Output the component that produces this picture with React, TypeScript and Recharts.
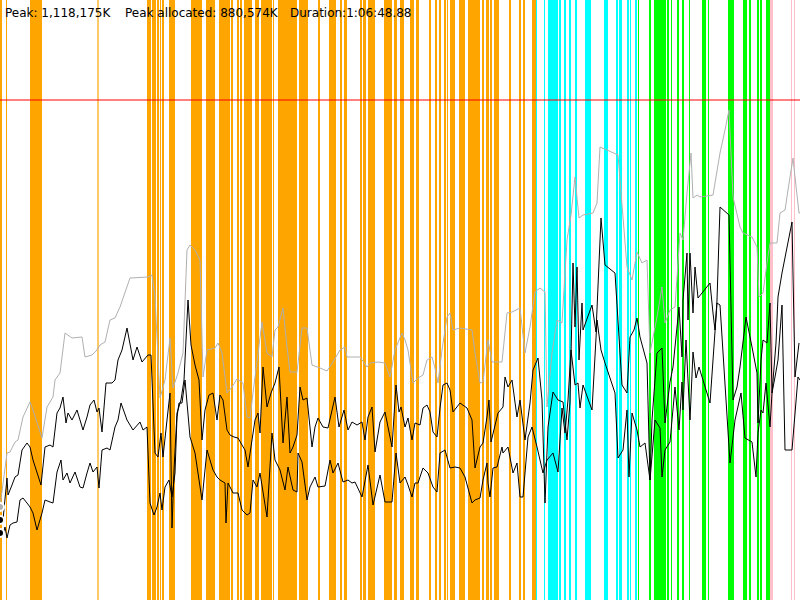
import { ComposedChart, Line, XAxis, YAxis, ReferenceArea, ReferenceLine } from 'recharts';

// memory samples: [time in seconds, % of peak footprint]
const TOTAL: [number, number][] = [
  [0, 18.6], [35, 29.4], [50, 29.6], [75, 31.6], [90, 32], [115, 36.6], [150, 39.6], [165, 38], [210, 32.4],
  [235, 38.6], [265, 40.6], [275, 44], [300, 45.4], [325, 53.4], [360, 52.4], [410, 52.6], [425, 48.6],
  [460, 49], [485, 50], [500, 51], [525, 51.6], [550, 56], [575, 56.4], [600, 58.6], [650, 64.4], [740, 64.6],
  [760, 65], [775, 60.6], [800, 40.4], [825, 44], [850, 52.4], [865, 42.4], [890, 45.4], [915, 49.4],
  [935, 70], [950, 71], [975, 70], [1000, 68], [1015, 44.6], [1035, 50], [1075, 50.4], [1090, 51.4],
  [1110, 49.4], [1135, 41.4], [1160, 42.6], [1185, 44.2], [1215, 43.4], [1235, 36.6], [1250, 36.4],
  [1265, 41.4], [1310, 55.6], [1335, 49.4], [1360, 48.6], [1375, 54], [1390, 54.6], [1415, 58.4],
  [1435, 50.6], [1450, 45.6], [1485, 45.6], [1510, 54.4], [1535, 54.4], [1560, 47], [1600, 46.4],
  [1635, 45.8], [1665, 47.6], [1700, 50], [1725, 50.6], [1735, 48.6], [1800, 48.6], [1835, 46.6],
  [1850, 47.4], [1890, 47.6], [1925, 47.4], [1950, 44.6], [1975, 50], [2010, 53.4], [2025, 52],
  [2040, 50], [2065, 43.4], [2090, 44.4], [2115, 45], [2135, 48], [2160, 48.6], [2175, 46.4],
  [2190, 43.4], [2210, 50], [2235, 56.6], [2250, 57.4], [2265, 54], [2300, 54.4], [2360, 54],
  [2375, 49.4], [2400, 43.4], [2415, 43.6], [2440, 52], [2460, 47.6], [2510, 47.6], [2535, 57.4],
  [2560, 57.6], [2600, 58.4], [2625, 49.4], [2650, 54.6], [2675, 61.6], [2700, 62.4], [2725, 61.6],
  [2735, 38.6], [2760, 49.4], [2785, 56], [2810, 55.4], [2835, 72], [2855, 77], [2875, 84.6],
  [2895, 76.4], [2915, 77], [2965, 77.4], [2985, 79.4], [3000, 90.6], [3035, 90], [3090, 89],
  [3135, 66.6], [3160, 64], [3185, 69.6], [3210, 67.4], [3235, 68], [3250, 49.4], [3285, 56.6],
  [3310, 62.6], [3325, 55.4], [3350, 58], [3375, 58.6], [3400, 73.4], [3415, 72], [3435, 81.4],
  [3455, 89.4], [3465, 80.4], [3485, 81], [3500, 80.6], [3565, 81], [3600, 89.4], [3625, 94],
  [3645, 98], [3665, 80.6], [3700, 74.6], [3715, 73.4], [3760, 72.6], [3785, 70.6], [3795, 60.6],
  [3815, 61.4], [3835, 67.4], [3850, 71.4], [3885, 71.4], [3900, 77.4], [3925, 78], [3940, 82],
  [3965, 88.4], [3975, 84.6], [3995, 77.4], [4000, 77.4],
];

const ALLOCATED: [number, number][] = [
  [0, 16], [15, 16], [35, 24.4], [40, 21], [60, 23], [75, 24.6], [90, 25], [110, 30], [135, 31.4],
  [150, 30.6], [165, 28], [205, 23], [225, 30.6], [250, 31], [265, 30.6], [285, 37.4], [300, 38.4],
  [315, 40.6], [330, 35.4], [340, 37.4], [360, 36], [385, 38], [415, 34], [435, 36.6], [450, 39],
  [470, 40], [485, 37.6], [495, 38.4], [510, 33.6], [530, 43.4], [560, 43.4], [575, 44], [590, 48],
  [610, 50], [635, 54.4], [665, 48], [685, 50.6], [710, 47.6], [740, 49], [755, 49], [775, 29.4],
  [790, 28.6], [805, 33.4], [815, 28.6], [835, 36], [850, 41.4], [860, 14.4], [870, 26], [885, 37.4],
  [905, 40], [920, 44], [940, 60], [955, 51], [975, 47], [995, 44], [1010, 32], [1025, 38], [1045, 41],
  [1065, 41.4], [1085, 36], [1100, 41], [1115, 40], [1135, 34], [1150, 33], [1170, 32.6], [1190, 32.4],
  [1210, 31], [1225, 30], [1240, 26.6], [1260, 32], [1275, 36], [1290, 37.4], [1300, 33.4],
  [1315, 46.6], [1335, 38.6], [1355, 41.4], [1375, 43.4], [1395, 46.6], [1415, 31.4], [1435, 40.6],
  [1450, 29.4], [1465, 30.6], [1485, 33], [1500, 42.6], [1515, 40], [1535, 40.4], [1560, 30.6],
  [1575, 34.6], [1590, 36.4], [1615, 34.6], [1640, 34.4], [1675, 40.6], [1695, 34.6], [1720, 38],
  [1740, 34], [1760, 35.6], [1785, 35], [1810, 35.6], [1825, 32], [1840, 36.6], [1860, 38.6],
  [1875, 29.6], [1900, 35.6], [1925, 37.6], [1960, 30.6], [1980, 43], [1995, 37.6], [2005, 38.6],
  [2025, 34.6], [2040, 36.4], [2060, 32], [2075, 35.4], [2100, 35], [2115, 38.4], [2135, 39],
  [2150, 37.6], [2165, 33.6], [2185, 32.6], [2200, 38.4], [2215, 43], [2235, 43.4], [2250, 42],
  [2265, 37.6], [2300, 39.4], [2335, 38.4], [2360, 36], [2375, 26.4], [2400, 30.6], [2415, 31.4],
  [2435, 36.6], [2445, 40], [2455, 31.6], [2490, 37.4], [2515, 38.6], [2525, 44.6], [2540, 42.6],
  [2560, 44], [2585, 36.6], [2600, 40], [2625, 32], [2650, 39.4], [2665, 46], [2690, 48.4], [2710, 40],
  [2725, 19.4], [2740, 34.6], [2765, 41.6], [2790, 40], [2815, 39.6], [2835, 32], [2850, 39.6],
  [2865, 67.4], [2875, 54.6], [2885, 66.6], [2895, 48], [2910, 59.4], [2915, 54], [2960, 59],
  [2980, 53.6], [3005, 76.4], [3025, 67], [3075, 65.4], [3110, 43], [3135, 41.4], [3150, 52.6],
  [3170, 54], [3185, 56.4], [3200, 52.6], [3235, 47.4], [3250, 24], [3260, 36], [3285, 49.4],
  [3310, 50.4], [3325, 35.4], [3350, 43.6], [3365, 46.6], [3395, 58.6], [3410, 48.6], [3415, 60],
  [3435, 69.4], [3440, 56], [3450, 69.4], [3465, 57.4], [3475, 66.6], [3490, 60.4], [3550, 63.4],
  [3565, 57.4], [3575, 54], [3585, 60], [3600, 78.6], [3645, 77], [3665, 40], [3685, 42.6],
  [3700, 46.6], [3730, 56.6], [3760, 50.6], [3785, 45.4], [3790, 35.4], [3805, 48], [3815, 52],
  [3835, 51.4], [3850, 59.4], [3860, 41.4], [3880, 51.4], [3890, 60.6], [3910, 65.4], [3960, 75.6],
  [3975, 44.6], [3995, 51.4],
];

const LIVE: [number, number][] = [
  [0, 13.4], [15, 13], [25, 14.6], [35, 12.4], [50, 15], [65, 15.4], [85, 15.6], [100, 20], [115, 20.4],
  [135, 19.4], [150, 18.6], [165, 17.4], [185, 14], [210, 17.4], [225, 20], [250, 19.6], [265, 19.4],
  [285, 25.6], [305, 28], [315, 24], [335, 25.4], [350, 23.4], [375, 25.6], [400, 22.6], [415, 22.4],
  [435, 25.4], [450, 27.4], [465, 25.6], [485, 26.6], [495, 22.4], [510, 30], [535, 30.4], [550, 30],
  [575, 34.6], [590, 36], [605, 39.4], [635, 36], [665, 34], [700, 35.6], [715, 34], [735, 34.6],
  [750, 19.4], [770, 17], [785, 18.6], [800, 21.4], [810, 18], [825, 22.6], [845, 24], [860, 20.6],
  [875, 25.4], [885, 36.6], [895, 39.4], [910, 39.4], [925, 44], [950, 32.6], [975, 29.4], [1010, 20],
  [1035, 30], [1050, 28], [1065, 26], [1085, 24.6], [1100, 24], [1125, 23.4], [1130, 15.4],
  [1140, 23.4], [1165, 21.4], [1190, 21.4], [1210, 18], [1235, 17], [1250, 17.4], [1265, 24],
  [1285, 22.6], [1300, 25.4], [1335, 16.6], [1360, 33.4], [1375, 28], [1400, 26], [1425, 22],
  [1440, 26.6], [1465, 22], [1485, 21.6], [1490, 29.4], [1510, 27.6], [1535, 20], [1550, 22.6],
  [1575, 24.6], [1590, 22.6], [1625, 22.8], [1650, 28], [1665, 25.4], [1690, 27.4], [1715, 23.6],
  [1740, 24], [1760, 23.4], [1775, 23.6], [1810, 20.6], [1840, 27], [1865, 19], [1900, 25],
  [1925, 19.6], [1960, 19.6], [1980, 29.4], [2000, 23.4], [2025, 24.6], [2040, 23], [2060, 20.6],
  [2075, 23.4], [2090, 23.4], [2115, 26.4], [2140, 25.4], [2165, 22.6], [2185, 21.6], [2200, 29.4],
  [2225, 30], [2250, 26.4], [2275, 26.6], [2300, 26.4], [2325, 24.6], [2360, 19.4], [2375, 20],
  [2400, 20.4], [2415, 24], [2435, 27.4], [2440, 23.4], [2450, 20.6], [2465, 26.4], [2485, 26.6],
  [2510, 30.6], [2515, 29.4], [2540, 30.6], [2565, 25.4], [2585, 27.4], [2600, 20.6], [2615, 20.6],
  [2640, 32.6], [2660, 34.6], [2685, 30.6], [2715, 25.4], [2735, 28], [2765, 29.4], [2790, 25.6],
  [2810, 38.4], [2825, 33.4], [2840, 40], [2855, 50], [2875, 43], [2890, 43.4], [2900, 38.4],
  [2915, 43], [2960, 38], [2985, 56], [3005, 50], [3025, 47.4], [3075, 41.4], [3090, 28.4], [3115, 30],
  [3135, 38], [3145, 24.6], [3160, 37.4], [3185, 34], [3200, 30.6], [3225, 31.4], [3250, 24],
  [3275, 36], [3300, 34.4], [3310, 24.6], [3325, 30], [3350, 31.6], [3375, 42.6], [3395, 34],
  [3410, 43.6], [3415, 38], [3430, 52], [3450, 36], [3465, 49.6], [3480, 44.4], [3495, 46.6],
  [3550, 39.4], [3585, 59.4], [3600, 59], [3650, 27.4], [3675, 36], [3705, 41.4], [3725, 32.4],
  [3760, 31.6], [3780, 24.6], [3790, 33.4], [3805, 38], [3815, 37.4], [3830, 43.4], [3850, 34.6],
  [3860, 41.4], [3875, 44.6], [3890, 48], [3910, 59], [3925, 30], [3960, 30], [3990, 44.6], [4000, 44],
];

// event spans [start s, end s]
const ORANGE_EVENTS: [number, number][] = [
  [0, 10], [30, 35], [150, 210], [487, 493], [735, 755], [760, 780], [785, 795], [800, 805], [810, 820],
  [845, 875], [955, 1010], [1030, 1075], [1095, 1150], [1155, 1165], [1185, 1195], [1200, 1210],
  [1220, 1260], [1275, 1295], [1305, 1360], [1365, 1370], [1390, 1485], [1495, 1540], [1590, 1600],
  [1645, 1680], [1700, 1710], [1720, 1735], [1800, 1810], [1815, 1830], [1840, 1875], [1920, 1960],
  [1970, 1985], [2000, 2020], [2050, 2070], [2080, 2095], [2145, 2155], [2175, 2185], [2195, 2205],
  [2220, 2230], [2235, 2240], [2250, 2275], [2295, 2325], [2340, 2400], [2410, 2420], [2430, 2445],
  [2450, 2460], [2470, 2495], [2545, 2555], [2595, 2605], [2615, 2625], [2660, 2680],
];
const CYAN_EVENTS: [number, number][] = [
  [2680, 2685], [2720, 2725], [2740, 2790], [2795, 2805], [2820, 2830], [2845, 2855], [2875, 2885],
  [2925, 2955], [3020, 3040], [3080, 3090], [3095, 3110], [3135, 3145], [3150, 3155], [3175, 3185],
];
const GREEN_EVENTS: [number, number][] = [
  [3190, 3195], [3245, 3255], [3270, 3330], [3335, 3345], [3355, 3360], [3385, 3395], [3410, 3420],
  [3445, 3450], [3510, 3530], [3540, 3545], [3640, 3670], [3715, 3735], [3745, 3755], [3785, 3795],
  [3800, 3810], [3830, 3850],
];
const PINK_EVENTS: [number, number][] = [[3850, 3865], [3955, 3960], [3970, 3975]];

const PEAK_PCT = 100;
const HEADER = ['Peak: 1,118,175K', 'Peak allocated: 880,574K', 'Duration:1:06:48.88'];

const toRows = (pts: [number, number][]) => pts.map(([t, v]) => ({ t, v }));

const bands = (spans: [number, number][], color: string, key: string) =>
  spans.map(([a, b], i) => (
    <ReferenceArea key={`${key}-${i}`} x1={a} x2={b} fill={color} fillOpacity={1} stroke="none" />
  ));

const headerX = [5, 125, 290];

export default function App() {
  return (
    <div style={{ position: 'absolute', left: 0, top: 0, width: 800, height: 600, background: '#fff' }}>
      <ComposedChart width={800} height={600} margin={{ top: 0, right: 0, bottom: 0, left: 0 }}>
        <XAxis dataKey="t" type="number" domain={[0, 4000]} hide allowDataOverflow />
        <YAxis type="number" domain={[0, 120]} hide allowDataOverflow />
        {bands(ORANGE_EVENTS, '#ffa500', 'o')}
        {bands(CYAN_EVENTS, '#00ffff', 'c')}
        {bands(GREEN_EVENTS, '#00ff00', 'g')}
        {bands(PINK_EVENTS, '#ffc0cb', 'p')}
        <ReferenceLine y={PEAK_PCT} stroke="#ff0000" strokeWidth={1} />
        <Line data={toRows(TOTAL)} dataKey="v" stroke="#b0b0b0" strokeWidth={1} dot={false} isAnimationActive={false} />
        <Line data={toRows(ALLOCATED)} dataKey="v" stroke="#000" strokeWidth={1} dot={false} isAnimationActive={false} />
        <Line data={toRows(LIVE)} dataKey="v" stroke="#000" strokeWidth={1} dot={false} isAnimationActive={false} />
      </ComposedChart>
      {HEADER.map((s, i) => (
        <div
          key={s}
          style={{
            position: 'absolute',
            left: headerX[i],
            top: 6,
            fontFamily: '"DejaVu Sans", sans-serif',
            fontSize: 12,
            lineHeight: '14px',
            whiteSpace: 'pre',
            color: '#000',
          }}
        >
          {s}
        </div>
      ))}
    </div>
  );
}
